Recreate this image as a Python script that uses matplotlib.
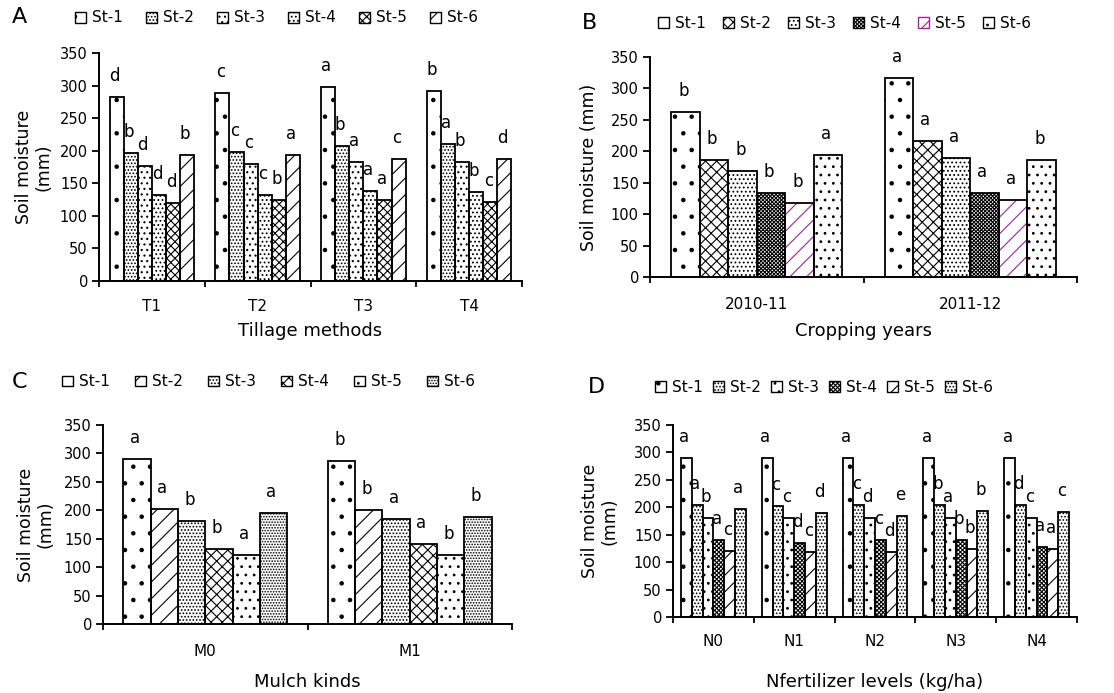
import matplotlib
matplotlib.use("Agg")
import matplotlib.pyplot as plt
from matplotlib.patches import Patch
import numpy as np

plt.rcParams['font.family'] = ['DejaVu Sans']
plt.rcParams['hatch.linewidth'] = 0.8

W, H, DPI = 1114, 693, 100

series = ["St-1", "St-2", "St-3", "St-4", "St-5", "St-6"]

# Panel A
a_cats = ["T1", "T2", "T3", "T4"]
a_vals = [[282, 196, 176, 132, 119, 193],
          [288, 198, 179, 132, 124, 193],
          [298, 208, 183, 138, 124, 187],
          [291, 211, 183, 137, 121, 187]]
a_letters = [list("dbdddb"), list("ccccba"), list("abaaac"), list("babbcd")]

# Panel B
b_cats = ["2010-11", "2011-12"]
b_vals = [[263, 186, 169, 133, 117, 194],
          [316, 216, 189, 133, 122, 186]]
b_letters = [list("bbbbba"), list("aaaaab")]

# Panel C
c_cats = ["M0", "M1"]
c_vals = [[290, 203, 181, 132, 121, 195],
          [286, 201, 184, 141, 121, 188]]
c_letters = [list("aabbaa"), list("bbaabb")]

# Panel D
d_cats = ["N0", "N1", "N2", "N3", "N4"]
d_vals = [[290, 204, 181, 141, 121, 197],
          [290, 203, 181, 135, 118, 189],
          [290, 204, 181, 141, 119, 185],
          [290, 205, 181, 141, 124, 194],
          [290, 205, 181, 128, 124, 192]]
d_letters = [list("aabaca"), list("accdcd"), list("acdcde"),
             list("ababbb"), list("adcaac")]

panels = [
    dict(tag="A", cats=a_cats, vals=a_vals, letters=a_letters,
         xlabel="Tillage methods", ylabel="Soil moisture\n(mm)",
         box=(99, 53, 522, 281), ylab_x=34, ticklab_y=308, xlab_y=331,
         hatches=['.', '.....', '...', '....', 'xxxx', '//'],
         hcolors=['k'] * 6,
         leg=(75, 18, 71), tagpos=(12, 17)),
    dict(tag="B", cats=b_cats, vals=b_vals, letters=b_letters,
         xlabel="Cropping years", ylabel="Soil moisture (mm)",
         box=(650, 57, 1077, 277), ylab_x=589, ticklab_y=306, xlab_y=331,
         hatches=['.', 'xxx', '....', 'xxxxxxxxx', '//', '..'],
         hcolors=['k', 'k', 'k', 'k', '#a020a0', 'k'],
         leg=(658, 23, 65), tagpos=(582, 23)),
    dict(tag="C", cats=c_cats, vals=c_vals, letters=c_letters,
         xlabel="Mulch kinds", ylabel="Soil moisture\n(mm)",
         box=(103, 425, 512, 624), ylab_x=36, ticklab_y=653, xlab_y=682,
         hatches=['.', '//', '.....', 'xxx', '..', '......'],
         hcolors=['k'] * 6,
         leg=(62, 382, 73), tagpos=(12, 382)),
    dict(tag="D", cats=d_cats, vals=d_vals, letters=d_letters,
         xlabel="Nfertilizer levels (kg/ha)", ylabel="Soil moisture\n(mm)",
         box=(673, 425, 1077, 617), ylab_x=600, ticklab_y=643, xlab_y=682,
         hatches=['.', '.....', '..', 'xxxxxxxx', '//', '.....'],
         hcolors=['k'] * 6,
         leg=(655, 387, 58), tagpos=(588, 387)),
]

fig = plt.figure(figsize=(W / DPI, H / DPI), dpi=DPI)
fig.patch.set_facecolor('white')

LEG_FS = 11
em = LEG_FS * DPI / 72.0

for p in panels:
    x0, y0, x1, y1 = p['box']
    ax = fig.add_axes([x0 / W, 1 - y1 / H, (x1 - x0) / W, (y1 - y0) / H])
    cats = p['cats']
    vals = np.array(p['vals'], dtype=float)
    n = len(cats)
    nser = len(series)
    bw = 0.8 / nser
    xs = np.arange(n)
    handles = []
    for j in range(nser):
        pos = xs - 0.4 + bw * (j + 0.5)
        ax.bar(pos, vals[:, j], width=bw, facecolor='white',
               edgecolor=p['hcolors'][j], hatch=p['hatches'][j], linewidth=0,
               zorder=2)
        ax.bar(pos, vals[:, j], width=bw, fill=False, edgecolor='black',
               linewidth=1.3, zorder=3)
        for i in range(n):
            ax.annotate(p['letters'][i][j], (pos[i], vals[i, j]),
                        xytext=(-2, 12), textcoords='offset pixels',
                        ha='center', va='bottom', fontsize=12, zorder=4)
        handles.append(Patch(facecolor='white', edgecolor=p['hcolors'][j],
                             hatch=p['hatches'][j], linewidth=1.0,
                             label=series[j]))
    ax.set_xlim(-0.5, n - 0.5)
    ax.set_ylim(0, 350)
    ax.set_yticks(np.arange(0, 351, 50))
    ax.set_xticks(np.arange(-0.5, n, 1.0))
    ax.set_xticklabels([])
    ax.set_xticks(xs, minor=True)
    ax.set_xticklabels(cats, minor=True)
    ax.spines['top'].set_visible(False)
    ax.spines['right'].set_visible(False)
    for s in ('left', 'bottom'):
        ax.spines[s].set_linewidth(1.4)
    ax.tick_params(axis='y', direction='out', length=5, width=1.3,
                   labelsize=10.5, pad=3)
    ax.tick_params(axis='x', which='major', direction='out', length=4,
                   width=1.3)
    pad_px = p['ticklab_y'] - 9 - y1
    ax.tick_params(axis='x', which='minor', length=0, labelsize=11,
                   pad=pad_px * 72.0 / DPI)
    ax.set_ylabel(p['ylabel'], fontsize=12.5, linespacing=1.1)
    ax.yaxis.set_label_coords((p['ylab_x'] - x0) / (x1 - x0), 0.5)
    ax.yaxis.label.set_va('center')
    ax.set_xlabel(p['xlabel'], fontsize=13)
    ax.xaxis.set_label_coords(0.5, (y1 - p['xlab_y']) / (y1 - y0))
    ax.xaxis.label.set_va('center')

    lx, ly, step = p['leg']
    entry = 0.7 * em + 0.4 * em + 2.02 * em
    colsp = (step - entry) / em
    fig.legend(handles=handles, ncol=6, loc='center left',
               bbox_to_anchor=(lx / W, 1 - ly / H), frameon=False,
               fontsize=LEG_FS, handlelength=0.7, handleheight=0.7,
               handletextpad=0.4, columnspacing=colsp, borderpad=0,
               borderaxespad=0)
    tx, ty = p['tagpos']
    fig.text(tx / W, 1 - ty / H, p['tag'], fontsize=16, ha='left',
             va='center')

fig.savefig("out.png", dpi=DPI, facecolor='white')
